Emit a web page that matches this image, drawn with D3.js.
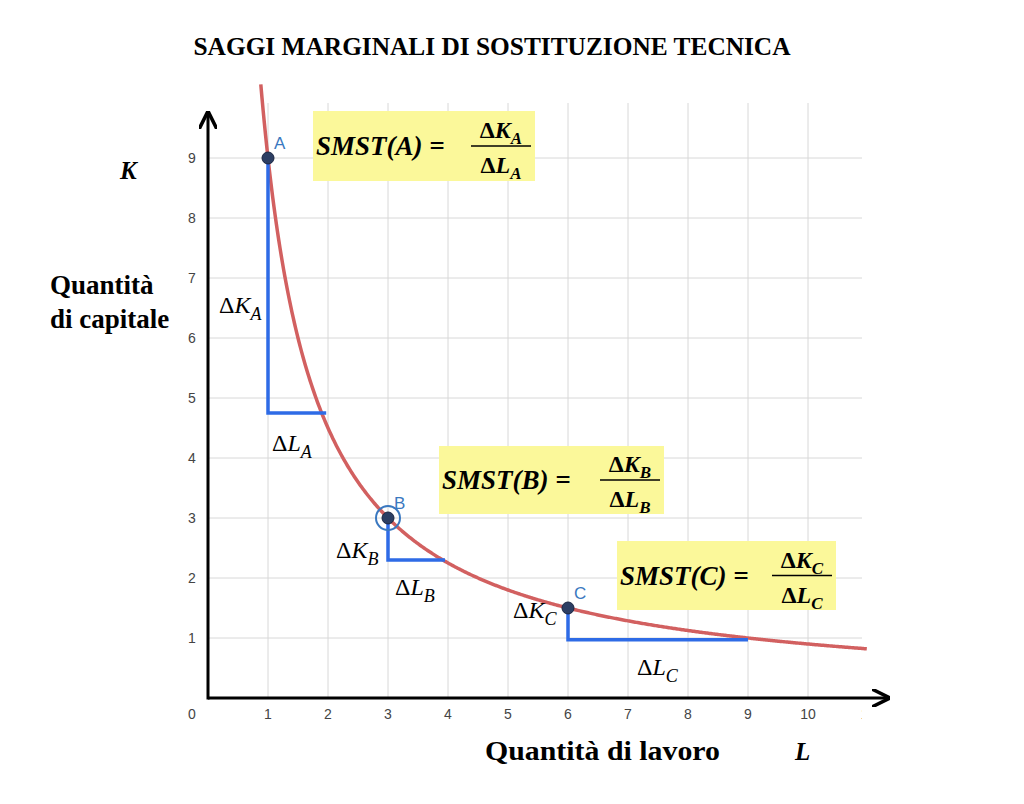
<!DOCTYPE html>
<html><head><meta charset="utf-8">
<script src="https://cdn.jsdelivr.net/npm/d3@7"></script>
<style>body{margin:0;background:#fff}</style>
</head><body>
<svg id="c" width="1024" height="804"></svg>
<script>
// isoquanta K = 9/L
var curveK = 9;
var xTicks = [0,1,2,3,4,5,6,7,8,9,10,11];
var yTicks = [1,2,3,4,5,6,7,8,9,10];
var points = [
  {name:"A", L:1, K:9},
  {name:"B", L:3, K:3},
  {name:"C", L:6, K:1.5}
];
// steps: vertical down to k2, then horizontal to l2
var steps = [
  {name:"A", L:1, K:9,   k2:4.75, l2:1.97},
  {name:"B", L:3, K:3,   k2:2.3,  l2:3.95},
  {name:"C", L:6, K:1.5, k2:0.97, l2:9}
];

var svg = d3.select("#c");
var x = d3.scaleLinear().domain([0,11]).range([208,868]);
var y = d3.scaleLinear().domain([0,10]).range([698,98]);
var serif = "'Liberation Serif', 'DejaVu Serif', serif";
var blue = "#2e6be6", lblBlue = "#3a78c0";

// grid
var grid = svg.append("g");
grid.selectAll("line.v").data(xTicks.slice(1)).enter().append("line")
  .attr("x1", d=>x(d)).attr("x2", d=>x(d)).attr("y1", y(0)).attr("y2", y(10))
  .attr("stroke","#d8d8d8");
grid.selectAll("line.h").data(yTicks).enter().append("line")
  .attr("x1", x(0)).attr("x2", x(11)).attr("y1", d=>y(d)).attr("y2", d=>y(d))
  .attr("stroke","#d8d8d8");

// tick labels
svg.selectAll("text.xt").data(xTicks).enter().append("text")
  .attr("x", d=>x(d) - (d==0?16:0)).attr("y", 719).attr("text-anchor","middle")
  .attr("font-family","Helvetica, Arial, sans-serif").attr("font-size",14).attr("fill","#444")
  .text(d=>d);
svg.selectAll("text.yt").data(yTicks).enter().append("text")
  .attr("x", 192).attr("y", d=>y(d)+5).attr("text-anchor","middle")
  .attr("font-family","Helvetica, Arial, sans-serif").attr("font-size",14).attr("fill","#444")
  .text(d=>d);

// white mask to clip labels at top/right
svg.append("rect").attr("x",0).attr("y",0).attr("width",1024).attr("height",y(10)+5).attr("fill","#fff");
svg.append("rect").attr("x",x(11)-6).attr("y",0).attr("width",200).attr("height",804).attr("fill","#fff");

// curve
var Ls = d3.range(0.88, 11.0, 0.02);
svg.append("path").datum(Ls)
  .attr("d", d3.line().x(d=>x(d)).y(d=>y(curveK/d)))
  .attr("fill","none").attr("stroke","#d26060").attr("stroke-width",3.5);

// axes with arrows
svg.append("defs").append("marker").attr("id","arr").attr("viewBox","0 0 10 10")
  .attr("refX",9).attr("refY",5).attr("markerWidth",6).attr("markerHeight",6).attr("orient","auto")
  .append("path").attr("d","M0,0 L10,5 L0,10").attr("fill","none").attr("stroke","#000").attr("stroke-width",2);
svg.append("line").attr("x1",x(0)).attr("y1",y(0)).attr("x2",888).attr("y2",y(0))
  .attr("stroke","#000").attr("stroke-width",3).attr("marker-end","url(#arr)");
svg.append("line").attr("x1",x(0)).attr("y1",y(0)+1.5).attr("x2",x(0)).attr("y2",113)
  .attr("stroke","#000").attr("stroke-width",3).attr("marker-end","url(#arr)");

// steps
svg.selectAll("path.step").data(steps).enter().append("path")
  .attr("d", d=>"M"+x(d.L)+","+y(d.K)+"V"+y(d.k2)+"H"+x(d.l2))
  .attr("fill","none").attr("stroke",blue).attr("stroke-width",3.5);

// B ring
svg.append("circle").attr("cx",x(3)).attr("cy",y(3)).attr("r",12)
  .attr("fill","none").attr("stroke",lblBlue).attr("stroke-width",2);
svg.selectAll("circle.pt").data(points).enter().append("circle")
  .attr("cx",d=>x(d.L)).attr("cy",d=>y(d.K)).attr("r",6)
  .attr("fill","#2c3e63").attr("stroke","#1a2540").attr("stroke-width",1);
svg.selectAll("text.pl").data(points).enter().append("text")
  .attr("x",d=>x(d.L)+6).attr("y",d=>y(d.K)-9)
  .attr("font-family","Helvetica, Arial, sans-serif").attr("font-size",17).attr("fill",lblBlue)
  .text(d=>d.name);

// delta labels
function delta(px, py, v, sub){
  var t = svg.append("text").attr("x",px).attr("y",py).attr("font-family",serif).attr("font-size",24);
  t.append("tspan").text("Δ");
  t.append("tspan").attr("font-style","italic").text(v);
  t.append("tspan").attr("font-style","italic").attr("font-size",18).attr("dy",7).text(sub);
}
delta(219,313,"K","A"); delta(272,451,"L","A");
delta(336,558,"K","B"); delta(395,595,"L","B");
delta(513,618,"K","C"); delta(637,675,"L","C");

// formula boxes
function box(bx, by, w, h, p){
  svg.append("rect").attr("x",bx).attr("y",by).attr("width",w).attr("height",h).attr("fill","#fbf89a");
  var cy = by + h/2;
  svg.append("text").attr("x",bx+3).attr("y",cy+9).attr("font-family",serif)
    .attr("font-weight","bold").attr("font-style","italic").attr("font-size",27)
    .text("SMST("+p+") =");
  var fx = bx + w - 34;
  svg.append("line").attr("x1",fx-30).attr("x2",fx+30).attr("y1",cy).attr("y2",cy).attr("stroke","#000").attr("stroke-width",1.5);
  [["K",-8],["L",27]].forEach(function(o){
    var t = svg.append("text").attr("x",fx).attr("y",cy+o[1]).attr("text-anchor","middle")
      .attr("font-family",serif).attr("font-weight","bold").attr("font-size",24);
    t.append("tspan").text("Δ");
    t.append("tspan").attr("font-style","italic").text(o[0]);
    t.append("tspan").attr("font-style","italic").attr("font-size",17).attr("dy",6).text(p);
  });
}
box(313,111,222,70,"A");
box(439,446,225,68,"B");
box(617,541,219,69,"C");

// titles
svg.append("text").attr("x",492).attr("y",55).attr("text-anchor","middle")
  .attr("font-family",serif).attr("font-weight","bold").attr("font-size",25)
  .attr("textLength",597).attr("lengthAdjust","spacingAndGlyphs")
  .text("SAGGI MARGINALI DI SOSTITUZIONE TECNICA");
svg.append("text").attr("x",120).attr("y",179).attr("font-family",serif)
  .attr("font-weight","bold").attr("font-style","italic").attr("font-size",25).text("K");
svg.append("text").attr("x",50).attr("y",294).attr("font-family",serif)
  .attr("font-weight","bold").attr("font-size",27).text("Quantità");
svg.append("text").attr("x",50).attr("y",328).attr("font-family",serif)
  .attr("font-weight","bold").attr("font-size",27).text("di capitale");
svg.append("text").attr("x",485).attr("y",760).attr("font-family",serif)
  .attr("font-weight","bold").attr("font-size",27)
  .attr("textLength",235).attr("lengthAdjust","spacingAndGlyphs").text("Quantità di lavoro");
svg.append("text").attr("x",795).attr("y",760).attr("font-family",serif)
  .attr("font-weight","bold").attr("font-style","italic").attr("font-size",25).text("L");
</script>
</body></html>
